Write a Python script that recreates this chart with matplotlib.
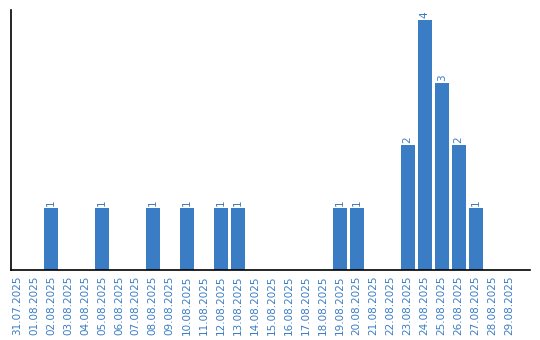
import numpy as np
import matplotlib
matplotlib.use("Agg")
import matplotlib.pyplot as plt

dates = ["31.07.2025", "01.08.2025", "02.08.2025", "03.08.2025", "04.08.2025",
         "05.08.2025", "06.08.2025", "07.08.2025", "08.08.2025", "09.08.2025",
         "10.08.2025", "11.08.2025", "12.08.2025", "13.08.2025", "14.08.2025",
         "15.08.2025", "16.08.2025", "17.08.2025", "18.08.2025", "19.08.2025",
         "20.08.2025", "21.08.2025", "22.08.2025", "23.08.2025", "24.08.2025",
         "25.08.2025", "26.08.2025", "27.08.2025", "28.08.2025", "29.08.2025"]
counts = [0, 0, 1, 0, 0, 1, 0, 0, 1, 0, 1, 0, 1, 1, 0,
          0, 0, 0, 0, 1, 1, 0, 0, 2, 4, 3, 2, 1, 0, 0]

blue = "#3b7dc4"

fig = plt.figure(figsize=(5.4, 3.4), dpi=100)
ax = fig.add_axes([11 / 540, 70 / 340, 519 / 540, 260 / 340])

x = np.arange(len(dates))
bars = ax.bar(x, counts, width=0.82, color=blue)
for xi, c in zip(x, counts):
    if c > 0:
        ax.text(xi, c + 0.03, str(c), rotation=90, ha="center", va="bottom",
                color=blue, fontsize=7.5)

ax.set_xlim(-0.35, 30.2)
ax.set_ylim(0, 4.16)
ax.set_xticks(x)
ax.set_xticklabels(dates, rotation=90, color=blue, fontsize=7.5)
ax.tick_params(axis="x", length=0, pad=4)
ax.set_yticks([])
ax.spines["top"].set_visible(False)
ax.spines["right"].set_visible(False)
ax.spines["left"].set_linewidth(1.2)
ax.spines["bottom"].set_linewidth(1.2)

fig.savefig("out.png", dpi=100)
